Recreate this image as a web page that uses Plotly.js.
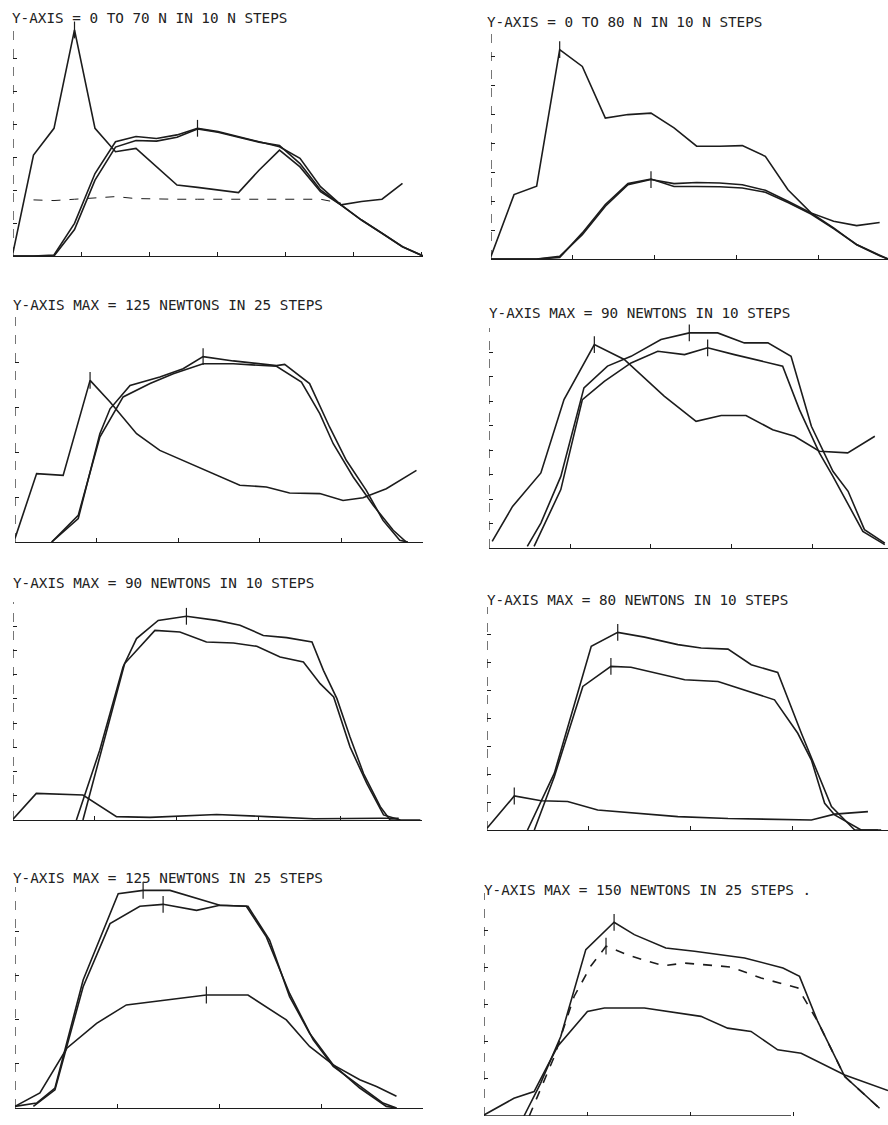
<!DOCTYPE html>
<html>
<head>
<meta charset="utf-8">
<script src="https://cdn.plot.ly/plotly-3.0.1.min.js"></script>
<style>html,body{margin:0;padding:0;background:#fff;}#chart{width:888px;height:1125px;}</style>
</head>
<body>
<div id="chart"></div>
<script>
// ---------- Titles ----------
const TITLES = [
  "Y-AXIS = 0 TO 70 N IN 10 N STEPS",
  "Y-AXIS = 0 TO 80 N IN 10 N STEPS",
  "Y-AXIS MAX = 125 NEWTONS IN 25 STEPS",
  "Y-AXIS MAX = 90 NEWTONS IN 10 STEPS",
  "Y-AXIS MAX = 90 NEWTONS IN 10 STEPS",
  "Y-AXIS MAX = 80 NEWTONS IN 10 STEPS",
  "Y-AXIS MAX = 125 NEWTONS IN 25 STEPS",
  "Y-AXIS MAX = 150 NEWTONS IN 25 STEPS ."
];
const Y_MAX = [70, 80, 125, 90, 90, 80, 125, 150];
const Y_STEP = [10, 10, 25, 10, 10, 10, 25, 25];

// ---------- Panel 1 (x = % of trace, force in N) ----------
const P1_X = [0,5,10,15,20,25,30,35,40,45,50,55,60,65,70,75,80,85,90,95,100];
const P1_A = [1,30.6,38.7,68.5,38.7,31.6,32.6,27.1,21.5,20.8,20,19.2,26,32.1,27,19.5,15.5,16.5,17.2,22,null];
const P1_B = [0,0,0.3,9.9,25,34.6,36.2,35.6,36.7,38.7,37.7,36.2,34.6,33.1,29.6,21,15.5,10.9,6.9,2.8,0];
const P1_C = [0,0,0,8,23,33,35,34.8,36,38.5,37.5,36,34.5,33.5,28,20,15.5,10.9,6.9,2.8,0];
const P1_D = [null,17,16.8,17.2,17.5,18,17.4,17.2,17.2,17.2,17.2,17.2,17.2,17.4,17.4,17.2,16,null,null,null,null];

// ---------- Panel 2 ----------
const P2_X = [0,5.8,11.5,17.3,23,28.8,34.5,40.3,46.1,51.8,57.6,63.3,69.1,74.8,80.6,86.3,92.1,97.9];
const P2_XL = [0,5.8,11.5,17.3,23,28.8,34.5,40.3,46.1,51.8,57.6,63.3,69.1,74.8,80.6,86.3,92.1,97.9,100];
const P2_A = [0.9,22.2,25.1,72.2,66.4,48.6,49.8,50.3,45.2,38.9,38.9,39.1,35.4,23.9,15.9,13,11.5,12.6];
const P2_B = [0,0,0,0.9,8.4,18.2,25.6,27.4,26,26.4,26.2,25.6,23.7,19.9,15.9,10.7,4.9,1.1,0];
const P2_C = [0,0,0,0.5,9,18.8,26,27.6,25,25,24.9,24.5,23,19.5,15.5,10.5,5,1.3,0];

// ---------- Panel 3 ----------
const P3_A_X = [0,5.3,11.8,18.4,23.3,29.8,35.5,42,47.8,55.1,61.6,67.3,74.7,80.4,85.3,91,98.4];
const P3_A_Y = [2,38,37,89.8,77.8,60.2,50.9,44.4,38.9,31.5,30.6,27.2,26.9,23.1,24.6,29.6,39.8];
const P3_B_X = [9,15.5,20.8,23.3,28.2,35.5,41.2,46.1,53.5,64.1,66.1,72.2,77.1,81.2,86.1,90.2,94.3,96.3];
const P3_B_Y = [0,13,60.2,74,87,91.7,96.3,103,100.6,98,98.7,88,63.9,45.4,28.7,12,0.9,0];
const P3_C_X = [9,15.5,20.8,26.5,33.1,38.8,46.1,53.5,64.1,70.2,74.7,78,82.9,87.8,92.7,95.9];
const P3_C_Y = [0,14.8,58.3,80.6,88,93.5,99,99,97.6,88.9,71.3,54.6,36.1,20.4,6.5,0];

// ---------- Panel 4 ----------
const P4_A_X = [0.8,5.9,13,18.8,26.4,33.9,43.9,51.9,58.2,64.4,71.1,76.6,82.8,89.9,96.7];
const P4_A_Y = [2.7,17,30.7,60.7,83.2,77.1,62.1,51.8,54.2,54.2,48.4,45.7,39.6,38.9,45.7];
const P4_B_X = [9.6,13,18,23.8,29.7,35.6,43.1,50.2,57.3,64,69.9,75.7,80.8,86.2,90,94.1,99.2];
const P4_B_Y = [0.7,10.2,29.3,65.5,74.4,78.4,85.3,88,88,83.9,83.9,78.4,49.8,31.4,23.2,7.5,2];
const P4_C_X = [11.3,18,23.4,28.9,35.6,42.3,49,54.8,61.5,68.2,73.6,77.8,82.8,86.2,93.7,99.2];
const P4_C_Y = [0.7,23.9,60.7,68.2,75.7,80.5,79.1,81.9,79.1,76.4,74.4,56.6,38.9,29.3,6.8,1.4];

// ---------- Panel 5 ----------
const P5_A_X = [0,5.7,17.1,25.3,33.5,49.8,62,73.5,89.8,94.3];
const P5_A_Y = [0.3,11,10.3,1.4,1.1,2.3,1.4,0.5,0.7,0.7];
const P5_B_X = [15.5,21.2,26.9,30.2,35.5,42.4,49.8,55.5,61.2,66.9,73.1,75.9,79.2,82.4,85.7,89.8,92.2,99.6];
const P5_B_Y = [0,28.8,63.2,74.9,82.4,84.1,82.4,80.4,76.2,75.3,73.5,61.8,50.1,34.3,19.2,5.5,0,0];
const P5_C_X = [17.1,21.2,27.3,34.7,40.8,47.3,53.9,59.6,65.3,71,75.1,78.4,82.4,86.5,90.6,94.7];
const P5_C_Y = [0,26.1,64.6,78.3,77.6,73.5,73.1,71.7,67.3,65.2,56.3,50.8,30.2,15.1,2.1,0];

// ---------- Panel 6 ----------
const P6_A_X = [0,6.8,13.5,20.1,27.6,35.9,47.6,60.1,69.2,80.9,86.7,95];
const P6_A_Y = [0.6,12.2,10.5,10.2,7.2,6.2,4.8,4.1,3.8,3.6,5.7,6.6];
const P6_B_X = [10.1,16.8,26,32.6,39.3,47.6,53.4,60.1,65.9,72.5,78.4,85.9,91.7,97.5];
const P6_B_Y = [0,20.4,65.9,70.9,69.2,66.5,65.3,64.9,59.3,56.5,34.7,8.4,0,0];
const P6_C_X = [11.8,16.8,23.9,30.9,35.9,41.8,49.3,57.6,64.2,71.7,77.5,80.9,84.2,86.7,93.3,98.3];
const P6_C_Y = [0,19.2,51.5,58.7,58.4,56.3,53.9,53.3,50.3,46.7,34.7,25.1,9.6,5.4,0,0];

// ---------- Panel 7 ----------
const P7_B_X = [0,5.3,9.8,16.7,25.3,31.4,38,43.7,50.2,57.1,62.4,67.3,72.2,78,84.5,91,93.5];
const P7_B_Y = [0.9,2.8,11.3,72.4,121.2,123.1,123.1,119,114.7,114.1,94.9,63,42.3,24.4,11.3,0.9,0];
const P7_C_X = [4.5,9.8,16.7,23.3,30.6,36.3,44.5,50.2,56.7,61.6,67.3,73.1,78,84.5,90.2,93.5];
const P7_C_Y = [0.9,10.3,68.6,104.3,114.1,115.2,111.8,114.7,114.1,96.8,64.8,38.5,23.5,12.2,2.8,0];
const P7_D_X = [0,6.1,12.7,20,27.3,37.1,46.9,57.1,66.5,72.2,78,84.5,88.6,93.5];
const P7_D_Y = [0.9,8.5,33.8,47.9,58.3,61.1,63.9,63.9,49.8,34.8,24.4,16,12.2,6.6];

// ---------- Panel 8 ----------
const P8_B_X = [9.9,14,19,25.2,32.2,37.2,45,52.1,64.5,74,78.1,82.6,89.3,97.9];
const P8_B_Y = [0,22,53.5,111.9,130.3,122,113,110.8,106.3,99.6,93.9,63.6,26.5,5.2];
const P8_C_X = [11.2,17.4,22.3,26.4,30.2,35.5,39.7,44.6,49.6,61.2,68.6,77.7,82.6,89.3,97.9];
const P8_C_Y = [0,40,80.4,100.7,114.2,108.5,104.7,101.1,102.9,100.2,92.8,86.1,63.6,26.5,5.2];
const P8_D_X = [0,7.4,12.4,18.2,25.6,29.8,39.7,47.9,53.7,60.3,66.1,72.7,78.5,89.3,100];
const P8_D_Y = [0.7,11.9,16.4,46.7,70.3,72.6,72.6,69.2,67,59.1,56.9,44.5,42.2,27.6,17.1];

// ---------- Layout (pixel boxes: left, right, bottom, top) ----------
const W = 888, H = 1125;
const BOX = [
  [13, 423, 256, 25],
  [491, 888, 259, 27],
  [15, 423, 542, 317],
  [489, 888, 548, 328],
  [13, 422, 820, 602],
  [487, 888, 830, 607],
  [15, 423, 1108, 887],
  [484, 888, 1116, 893]
];
const X_DTICK = [16.6, 20.6, 20, 20.3, 20, 25.4, 25, 25.5];
const TITLE_POS = [[10,18],[485,22],[11,305],[487,313],[11,583],[485,600],[11,878],[482,890]];

const SERIES = [
  [{x:P1_X,y:P1_A,peak:true},{x:P1_X,y:P1_B,peak:true},{x:P1_X,y:P1_C},{x:P1_X,y:P1_D,dash:'dash',w:1}],
  [{x:P2_X,y:P2_A,peak:true},{x:P2_XL,y:P2_B,peak:true},{x:P2_XL,y:P2_C}],
  [{x:P3_A_X,y:P3_A_Y,peak:true},{x:P3_B_X,y:P3_B_Y,peak:true},{x:P3_C_X,y:P3_C_Y}],
  [{x:P4_A_X,y:P4_A_Y,peak:true},{x:P4_B_X,y:P4_B_Y,peak:true},{x:P4_C_X,y:P4_C_Y,peak:true}],
  [{x:P5_A_X,y:P5_A_Y},{x:P5_B_X,y:P5_B_Y,peak:true},{x:P5_C_X,y:P5_C_Y}],
  [{x:P6_A_X,y:P6_A_Y,peak:true},{x:P6_B_X,y:P6_B_Y,peak:true},{x:P6_C_X,y:P6_C_Y,peak:true}],
  [{x:P7_B_X,y:P7_B_Y,peak:true},{x:P7_C_X,y:P7_C_Y,peak:true},{x:P7_D_X,y:P7_D_Y,peak:true}],
  [{x:P8_B_X,y:P8_B_Y,peak:true},{x:P8_C_X,y:P8_C_Y,peak:true,dash:'dash'},{x:P8_D_X,y:P8_D_Y}]
];

const INK = '#1c1c1c';
const traces = [];
const layout = {
  width: W, height: H,
  margin: {l:0, r:0, t:0, b:0},
  paper_bgcolor: '#ffffff', plot_bgcolor: '#ffffff',
  showlegend: false,
  annotations: [], shapes: []
};

for (let p = 0; p < 8; p++) {
  const n = p + 1;
  const sfx = n === 1 ? '' : String(n);
  const xa = 'x' + sfx, ya = 'y' + sfx;
  const [l, r, b, t] = BOX[p];
  const xDrawLine = (p !== 7);
  layout['xaxis' + sfx] = {
    domain: [l / W, r / W], range: [0, 100], anchor: ya,
    showgrid: false, zeroline: false, showticklabels: false,
    showline: xDrawLine, linecolor: INK, linewidth: 1.3,
    ticks: 'inside', ticklen: 4, tickcolor: INK, tickwidth: 1,
    tick0: 0, dtick: X_DTICK[p], fixedrange: true
  };
  layout['yaxis' + sfx] = {
    domain: [1 - b / H, 1 - t / H], range: [0, Y_MAX[p]], anchor: xa,
    showgrid: false, zeroline: false, showticklabels: false, showline: false,
    ticks: 'inside', ticklen: 4, tickcolor: INK, tickwidth: 1,
    tick0: 0, dtick: Y_STEP[p], fixedrange: true
  };
  // dashed y axis line
  layout.shapes.push({type:'line', xref: xa, yref: ya, x0: 0, x1: 0, y0: 0, y1: Y_MAX[p],
    line: {color: INK, width: 1.2, dash: 'dash'}});
  if (!xDrawLine) {
    layout.shapes.push({type:'line', xref: xa, yref: ya, x0: 0, x1: 76, y0: 0, y1: 0,
      line: {color: INK, width: 1.3}});
  }
  layout.annotations.push({
    xref: 'paper', yref: 'paper', x: TITLE_POS[p][0] / W, y: 1 - TITLE_POS[p][1] / H,
    xanchor: 'left', yanchor: 'middle', showarrow: false, text: TITLES[p],
    font: {family: 'DejaVu Sans Mono, Liberation Mono, monospace', size: 14.3, color: '#222'}
  });
  SERIES[p].forEach(s => {
    traces.push({
      type: 'scatter', mode: 'lines', x: s.x, y: s.y, xaxis: xa, yaxis: ya,
      connectgaps: false, hoverinfo: 'skip',
      line: {color: INK, width: s.w || 1.6, dash: s.dash || 'solid'}
    });
    if (s.peak) {
      let bi = 0;
      s.y.forEach((v, i) => { if (v !== null && v > s.y[bi]) bi = i; });
      traces.push({
        type: 'scatter', mode: 'markers', x: [s.x[bi]], y: [s.y[bi]], xaxis: xa, yaxis: ya,
        hoverinfo: 'skip', cliponaxis: false,
        marker: {symbol: 'line-ns', size: 12, color: INK, line: {color: INK, width: 1.2}}
      });
    }
  });
}

Plotly.newPlot('chart', traces, layout, {staticPlot: true, displayModeBar: false});
</script>
</body>
</html>
